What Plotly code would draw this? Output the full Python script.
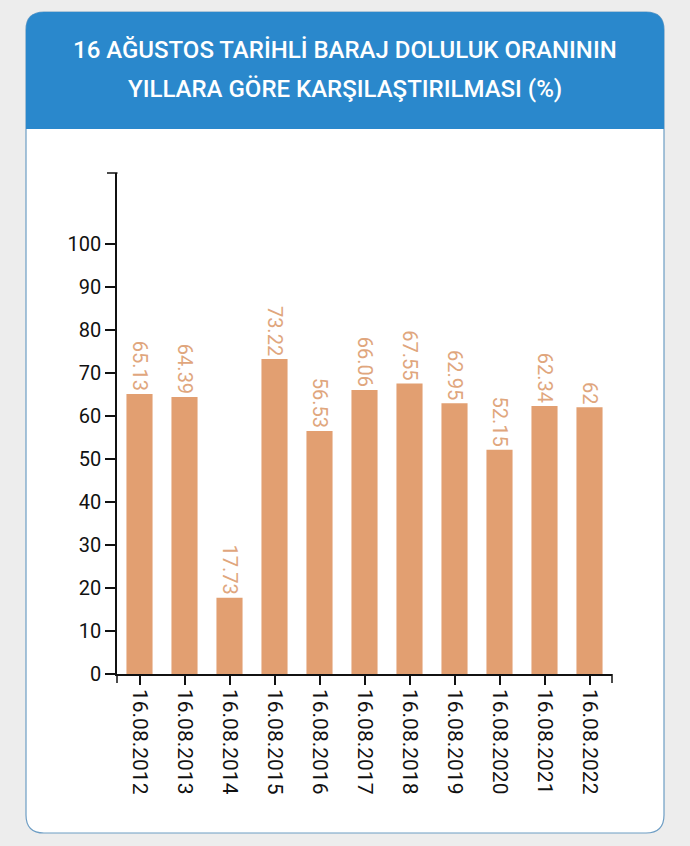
import plotly.graph_objects as go

categories = ["16.08.2012", "16.08.2013", "16.08.2014", "16.08.2015", "16.08.2016",
              "16.08.2017", "16.08.2018", "16.08.2019", "16.08.2020", "16.08.2021", "16.08.2022"]
values = [65.13, 64.39, 17.73, 73.22, 56.53, 66.06, 67.55, 62.95, 52.15, 62.34, 62]
labels = ["65.13", "64.39", "17.73", "73.22", "56.53", "66.06", "67.55", "62.95", "52.15", "62.34", "62"]
y_ticks = [0, 10, 20, 30, 40, 50, 60, 70, 80, 90, 100]
title_lines = ["16 AĞUSTOS TARİHLİ BARAJ DOLULUK ORANININ", "YILLARA GÖRE KARŞILAŞTIRILMASI (%)"]

W, H = 690, 846
L, R, T, B = 117, 78, 173, 172
pw, ph = W - L - R, H - T - B

BAR = "#e29f71"
TXT = "#e0a67d"
AX = "#111111"

fig = go.Figure(go.Bar(
    x=categories, y=values, text=labels, textposition="outside", textangle=90,
    constraintext="none", cliponaxis=False,
    textfont=dict(family="Roboto", size=20, color=TXT),
    marker=dict(color=BAR, line=dict(width=0)), width=0.58,
))

def px(x):
    return (x - L) / pw

def py(y):
    return (H - B - y) / ph

def rrect(x0, y0, x1, y1, r, top_only=False):
    if top_only:
        d = (f"M {px(x0)},{py(y1)} L {px(x0)},{py(y0 + r)} "
             f"Q {px(x0)},{py(y0)} {px(x0 + r)},{py(y0)} "
             f"L {px(x1 - r)},{py(y0)} Q {px(x1)},{py(y0)} {px(x1)},{py(y0 + r)} "
             f"L {px(x1)},{py(y1)} Z")
    else:
        d = (f"M {px(x0)},{py(y1 - r)} L {px(x0)},{py(y0 + r)} "
             f"Q {px(x0)},{py(y0)} {px(x0 + r)},{py(y0)} "
             f"L {px(x1 - r)},{py(y0)} Q {px(x1)},{py(y0)} {px(x1)},{py(y0 + r)} "
             f"L {px(x1)},{py(y1 - r)} Q {px(x1)},{py(y1)} {px(x1 - r)},{py(y1)} "
             f"L {px(x0 + r)},{py(y1)} Q {px(x0)},{py(y1)} {px(x0)},{py(y1 - r)} Z")
    return d

shapes = [
    dict(type="path", xref="paper", yref="paper", path=rrect(26, 12, 664, 833, 18),
         fillcolor="white", line=dict(color="#6d9dc4", width=1.2), layer="below"),
    dict(type="path", xref="paper", yref="paper", path=rrect(26, 12, 664, 129, 18, top_only=True),
         fillcolor="#2a88cc", line=dict(width=0), layer="below"),
    # outer ticks of axis domains
    dict(type="line", xref="paper", yref="paper", x0=px(107), x1=px(117.5), y0=1, y1=1,
         line=dict(color=AX, width=1.5)),
    dict(type="line", xref="paper", yref="paper", x0=0, x1=0, y0=0, y1=py(683),
         line=dict(color=AX, width=1.5)),
    dict(type="line", xref="paper", yref="paper", x0=1, x1=1, y0=0, y1=py(683),
         line=dict(color=AX, width=1.5)),
]

annotations = []
for i, line in enumerate(title_lines):
    annotations.append(dict(
        text=line, xref="paper", yref="paper", x=px(345), y=py([50, 89][i]),
        xanchor="center", yanchor="middle", showarrow=False,
        font=dict(family="Roboto", size=24, color="white", weight=500),
    ))

fig.update_layout(
    width=W, height=H, margin=dict(l=L, r=R, t=T, b=B, pad=0),
    paper_bgcolor="#ededed", plot_bgcolor="rgba(0,0,0,0)",
    showlegend=False,
    shapes=shapes, annotations=annotations,
    xaxis=dict(type="category", tickangle=90, ticks="outside", ticklen=9, tickwidth=1.5,
               tickcolor=AX, showline=True, linecolor=AX, linewidth=1.5,
               showgrid=False, zeroline=False,
               tickfont=dict(family="Roboto", size=21, color=AX)),
    yaxis=dict(range=[0, 116.5], tickvals=y_ticks, ticks="outside", ticklen=10, tickwidth=1.5,
               tickcolor=AX, showline=True, linecolor=AX, linewidth=1.5,
               showgrid=False, zeroline=False,
               tickfont=dict(family="Roboto", size=20, color=AX)),
    font=dict(family="Roboto"),
)

fig.write_html("out.html")
